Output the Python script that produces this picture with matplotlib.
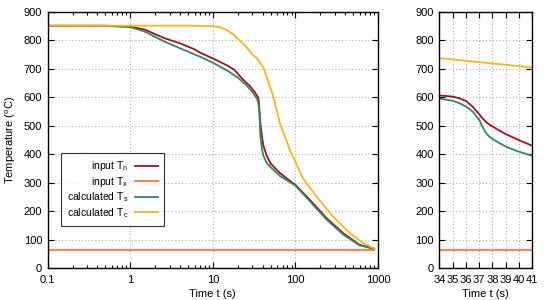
import numpy as np
import matplotlib
matplotlib.use("Agg")
import matplotlib.pyplot as plt
from matplotlib.ticker import FixedLocator, FixedFormatter, LogLocator, NullFormatter

plt.rcParams['font.family'] = ['Liberation Sans', 'DejaVu Sans']
plt.rcParams['mathtext.fontset'] = 'custom'
plt.rcParams['mathtext.rm'] = 'Liberation Sans'
plt.rcParams['mathtext.it'] = 'Liberation Sans'

# ---- data ----
t_n = [0.1, 0.5, 1, 1.5, 2.6, 4, 6, 7, 10, 15, 18, 23, 28, 32, 34, 35, 35.5, 36, 36.5, 37,
       37.25, 37.5, 37.75, 38, 39, 40, 41, 45, 50, 65, 85, 100, 150, 240, 380, 600, 900]
T_n = [852, 852, 849, 838, 808, 790, 769, 757, 737, 712, 698, 664, 640, 620, 607, 603, 597,
       588, 568, 541, 527, 515, 505, 498, 471, 450, 430, 395, 368, 334, 308, 293, 240, 175,
       123, 82, 68]

t_x = [0.1, 900]
T_x = [65, 65]

t_s = [0.1, 0.5, 1, 1.5, 2.6, 6, 7, 10, 15, 20, 25, 30, 34, 35, 35.5, 36, 36.5, 37,
       37.25, 37.5, 37.75, 38, 39, 40, 41, 45, 50, 65, 85, 100, 150, 240, 380, 600, 900]
T_s = [851, 851, 847, 831, 796, 751, 743, 722, 694, 670, 645, 620, 596, 588, 580, 568, 551,
       522, 497, 476, 463, 454, 427, 409, 395, 370, 355, 324, 303, 290, 235, 170, 118, 80, 68]

t_c = [0.1, 1, 5, 10, 12, 14.7, 18, 21, 25, 30, 34, 37, 41, 45, 54, 65, 86, 124, 181, 287,
       457, 662, 900]
T_c = [852, 852, 852, 850, 847, 837, 820, 800, 780, 752, 738, 724, 705, 671, 603, 509,
       415, 315, 251, 181, 123, 88, 70]

labels = ['input T$_\\mathrm{n}$', 'input T$_\\mathrm{x}$',
          'calculated T$_\\mathrm{s}$', 'calculated T$_\\mathrm{c}$']
colors = ['#a3121c', '#f88462', '#2e8b57', '#fdb515']

main_xticks = [0.1, 1, 10, 100, 1000]
main_xticklabels = ['0.1', '1', '10', '100', '1000']
zoom_xticks = [34, 35, 36, 37, 38, 39, 40, 41]
yticks = list(range(0, 901, 100))

series = [(t_n, T_n), (t_x, T_x), (t_s, T_s), (t_c, T_c)]

fig = plt.figure(figsize=(5.5, 3.0), dpi=100)
ax = fig.add_axes([0.0867, 0.106, 0.6005, 0.854])
ax2 = fig.add_axes([0.7987, 0.106, 0.1691, 0.854])

for a in (ax, ax2):
    for (tt, TT), c, lab in zip(series, colors, labels):
        lw = 1.6 if c == '#f88462' else 1.3
        a.plot(tt, TT, color=c, lw=lw, label=lab)
    a.set_ylim(0, 900)
    a.yaxis.set_major_locator(FixedLocator(yticks))
    a.grid(True, which='major', color='#b0b0b0', linestyle=(0, (1, 2)), linewidth=0.8)
    a.tick_params(direction='in', which='both', top=True, right=True, labelsize=8,
                  length=4, width=0.8)
    a.tick_params(axis='x', which='major', pad=5)
    a.tick_params(axis='y', which='major', pad=4)
    a.tick_params(which='minor', length=2)
    for s in a.spines.values():
        s.set_linewidth(1.0)
    a.set_xlabel('Time t (s)', fontsize=8, labelpad=3)

ax.set_xscale('log')
ax.set_xlim(0.1, 1000)
ax.xaxis.set_major_locator(FixedLocator(main_xticks))
ax.xaxis.set_major_formatter(FixedFormatter(main_xticklabels))
ax.xaxis.set_minor_locator(LogLocator(base=10, subs=np.arange(2, 10)))
ax.xaxis.set_minor_formatter(NullFormatter())
ax.set_ylabel('Temperature ($^\\mathrm{o}$C)', fontsize=8, labelpad=4)

ax2.set_xlim(34, 41)
ax2.xaxis.set_major_locator(FixedLocator(zoom_xticks))

leg = ax.legend(loc='lower left', bbox_to_anchor=(0.04, 0.165), fontsize=7.5,
                markerfirst=False, frameon=True, fancybox=False, handlelength=2.2,
                borderpad=0.6, labelspacing=0.15, handletextpad=0.6, borderaxespad=0)
leg.get_frame().set_edgecolor('black')
leg.get_frame().set_linewidth(0.8)
for txt in leg.get_texts():
    txt.set_ha('right')
leg._legend_box.align = 'right'

fig.savefig('out.png', dpi=100)
